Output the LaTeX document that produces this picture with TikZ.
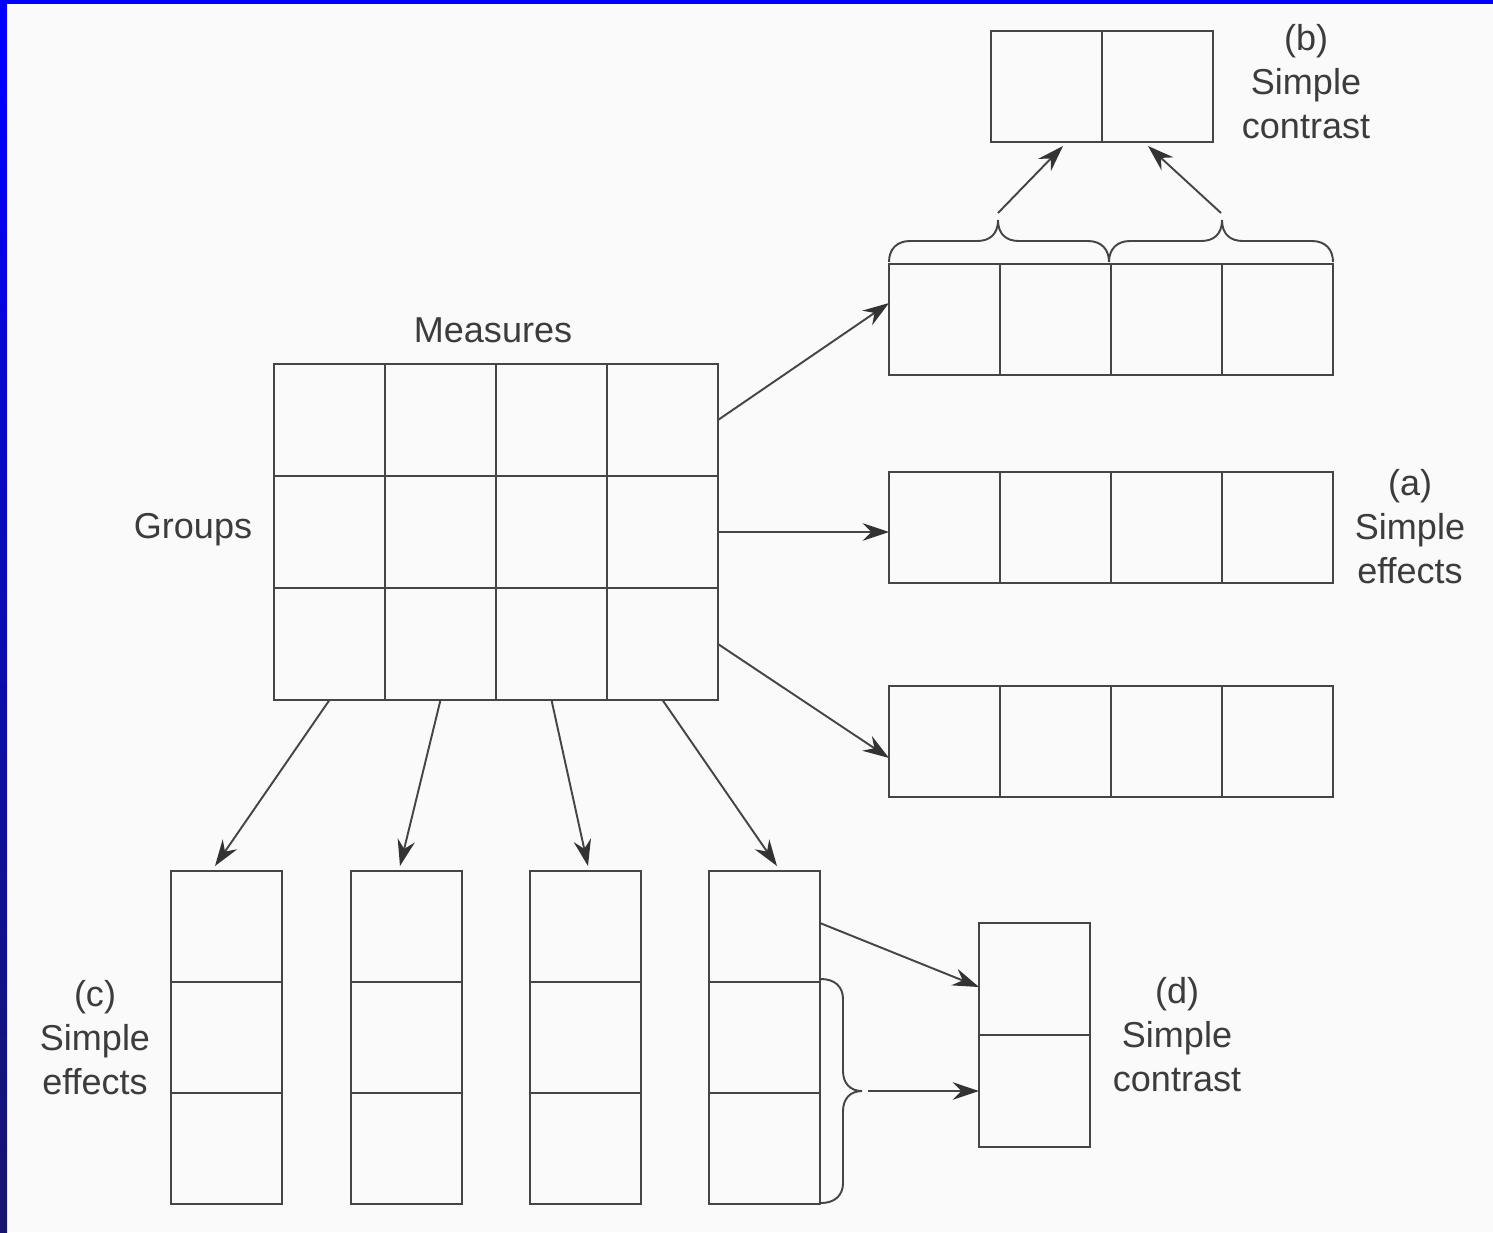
\documentclass[tikz,border=0pt]{standalone}
\usepackage{fontspec}
\setmainfont{Liberation Sans}
\usetikzlibrary{arrows.meta,calc}
\definecolor{ink}{HTML}{454545}
\definecolor{tipink}{HTML}{333333}
\definecolor{textink}{HTML}{3C3C3C}
\definecolor{scanbg}{HTML}{FAFAFA}
\definecolor{edgeblue}{HTML}{0000FF}
\definecolor{edgenavy}{HTML}{16166E}
\begin{document}
\begin{tikzpicture}[x=0.02cm, y=-0.02cm,
  cell/.style={draw=ink, line width=1.1pt, minimum width=2.22cm, minimum height=2.22cm,
               inner sep=0pt, outer sep=0pt, anchor=north west},
  tallcell/.style={cell, minimum height=2.24cm},
  arr/.style={draw=ink, line width=1.1pt, -{Stealth[length=15pt,width=10pt,inset=5pt,color=tipink]}},
  bracepath/.style={draw=ink, line width=1.1pt},
  lbl/.style={text=textink, font=\fontsize{20.5pt}{25pt}\selectfont, inner sep=0pt, align=center}]
\useasboundingbox (0,0) rectangle (1493,1232);
\fill[scanbg] (0,0) rectangle (1493,1232);
\fill[edgeblue] (0,0) rectangle (1493,4);
\shade[top color=edgeblue, bottom color=edgenavy] (0,0) rectangle (7,1232);

% main grid
\foreach \r in {0,1,2}
  \foreach \c in {0,1,2,3}
    \node[tallcell] (g\r\c) at ({274+111*\c},{364+112*\r}) {};
\node[lbl] (measures) at (493,330) {Measures};
\node[lbl] (groups) at (193,530) {Groups};

% right rows
\foreach \n/\y in {rt/264, rm/472, rb/686}
  \foreach \c in {0,1,2,3}
    \node[cell] (\n\c) at ({889+111*\c},\y) {};

% (b) box
\node[cell] (sb0) at (991,31) {};
\node[cell] (sb1) at (1102,31) {};

% bottom columns
\foreach \k/\x in {0/171,1/351,2/530,3/709}
  \foreach \r in {0,1,2}
    \node[cell] (c\k\r) at (\x,{871+111*\r}) {};

% (d) box
\node[tallcell] (sd0) at (979,923) {};
\node[tallcell] (sd1) at (979,1035) {};

% labels
\node[lbl] (lb) at (1306,82) {(b)\\Simple\\contrast};
\node[lbl] (la) at (1410,527) {(a)\\Simple\\effects};
\node[lbl] (lc) at (95,1038) {(c)\\Simple\\effects};
\node[lbl] (ld) at (1177,1035) {(d)\\Simple\\contrast};

% arrows grid -> right rows
\draw[arr] (g03.east) -- ($(rt0.north west)+(0,39)$);
\draw[arr] (g13.east) -- (g13.east -| rm0.west);
\draw[arr] (g23.east) -- ($(rb0.south west)+(0,-39)$);

% arrows grid -> bottom columns
\draw[arr] (g20.south) -- ($(c00.north)+(-11.5,-5)$);
\draw[arr] (g21.south) -- ($(c10.north)+(-6.5,-5)$);
\draw[arr] (g22.south) -- ($(c20.north)+(2.5,-5)$);
\draw[arr] (g23.south) -- ($(c30.north)+(12.5,-5)$);

% braces over the top row
\draw[bracepath] (889,262) .. controls (889,249) and (897,241) .. (910,241) -- (977,241)
  .. controls (990,241) and (998,234) .. (998,220) .. controls (998,234) and (1006,241) .. (1019,241)
  -- (1088,241) .. controls (1101,241) and (1109,249) .. (1109,262);
\draw[bracepath] (1109,262) .. controls (1109,249) and (1117,241) .. (1130,241) -- (1201,241)
  .. controls (1214,241) and (1222,234) .. (1222,220) .. controls (1222,234) and (1230,241) .. (1243,241)
  -- (1312,241) .. controls (1325,241) and (1333,249) .. (1333,262);
\coordinate (btipl) at (998,213);
\coordinate (btipr) at (1221,213);
\draw[arr] (btipl) -- ($(sb0.south east)+(-39,4)$);
\draw[arr] (btipr) -- ($(sb1.south west)+(46,4)$);

% (d) connections
\draw[arr] ($(c30.north east)+(0,52)$) -- ($(sd0.north west)+(0,64)$);
\draw[bracepath] (821,979) .. controls (834,979) and (843,986) .. (843,999) -- (843,1071)
  .. controls (843,1083) and (850,1091) .. (862,1091) .. controls (850,1091) and (843,1099) .. (843,1111)
  -- (843,1183) .. controls (843,1196) and (834,1203) .. (821,1203);
\coordinate (dtip) at (868,1091);
\draw[arr] (dtip) -- (dtip -| sd1.west);
\end{tikzpicture}
\end{document}
